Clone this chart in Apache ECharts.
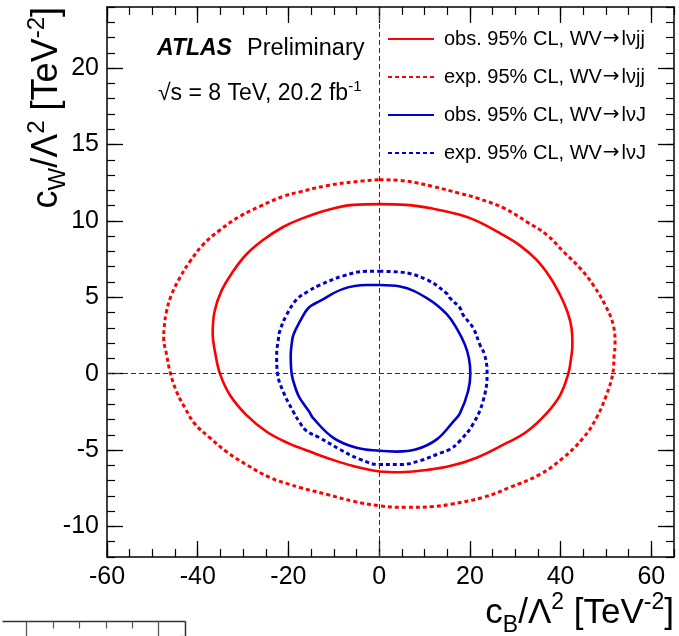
<!DOCTYPE html>
<html>
<head>
<meta charset="utf-8">
<script src="https://cdn.jsdelivr.net/npm/echarts@6/dist/echarts.min.js"></script>
<style>html,body{margin:0;padding:0;background:#fff;}#c{width:679px;height:636px;}</style>
</head>
<body>
<div id="c"></div>
<script>
// ---- data (c_B/Λ², c_W/Λ²) contours ----
const obsLvjj = [[0.1,11.1],[6.0,11.05],[11.9,10.8],[17.8,10.4],[21.5,10.0],[26.6,9.2],[31.0,8.4],[34.7,7.45],[37.6,6.35],[39.9,5.15],[41.5,4.05],[42.4,3.0],[42.6,1.9],[42.3,1.0],[41.7,0],[39.9,-1.4],[36.9,-2.6],[32.5,-3.8],[27.4,-4.65],[21.5,-5.5],[15.6,-6.05],[10.5,-6.3],[4.6,-6.45],[0.1,-6.4],[-5.7,-6.05],[-11.6,-5.5],[-15.3,-5.1],[-17.5,-4.85],[-19.7,-4.6],[-24.8,-3.8],[-29.3,-2.7],[-32.9,-1.4],[-35.1,0],[-36.2,1.45],[-36.7,2.6],[-36.3,4.05],[-34.8,5.4],[-32.2,6.7],[-29.3,7.8],[-25.6,8.75],[-21.2,9.6],[-17.5,10.1],[-11.6,10.7],[-5.7,11.05],[0.1,11.1]];
const expLvjj = [[0.1,12.7],[6.0,12.6],[11.9,12.25],[17.8,11.8],[21.5,11.5],[27.4,10.85],[32.5,9.95],[36.9,9.1],[40.6,8.0],[44.3,6.9],[47.2,5.8],[49.8,4.5],[51.6,3.2],[52.0,1.9],[51.8,1.2],[51.5,0],[50.1,-1.4],[47.9,-2.9],[45.0,-4.2],[40.6,-5.5],[35.4,-6.6],[28.8,-7.45],[22.9,-8.1],[15.6,-8.55],[11.9,-8.7],[6.0,-8.75],[0.1,-8.65],[-5.7,-8.35],[-11.6,-7.9],[-17.5,-7.45],[-19.7,-7.25],[-24.1,-6.8],[-29.3,-5.95],[-33.7,-5.1],[-37.3,-4.2],[-40.6,-3.3],[-42.8,-2.25],[-44.7,-1.15],[-46.0,0],[-46.9,1.3],[-47.5,2.3],[-47.4,3.0],[-46.9,4.05],[-45.8,5.15],[-44.0,6.25],[-41.7,7.35],[-38.8,8.45],[-35.1,9.4],[-30.7,10.3],[-26.3,10.95],[-21.2,11.6],[-17.5,11.9],[-11.6,12.3],[-5.7,12.55],[0.1,12.7]];
const obsLvJ = [[0.1,5.8],[4.6,5.7],[10.5,4.95],[14.9,3.9],[17.4,2.8],[18.9,1.9],[19.8,1.0],[20.1,0],[19.6,-1.15],[17.8,-2.6],[16.3,-3.15],[12.7,-4.3],[8.2,-4.95],[3.8,-5.1],[0.1,-5.05],[-5.0,-4.85],[-10.1,-4.2],[-14.6,-2.9],[-15.3,-2.55],[-16.0,-2.25],[-17.5,-1.6],[-18.2,-1.15],[-19.3,0],[-19.5,1.2],[-19.3,1.9],[-18.9,2.55],[-17.5,3.4],[-15.6,4.3],[-13.1,4.75],[-7.9,5.55],[-2.8,5.8],[0.1,5.8]];
const expLvJ = [[0.1,6.7],[4.6,6.65],[10.5,6.15],[14.9,5.25],[15.6,4.95],[17.8,4.3],[18.5,3.85],[20.7,3.0],[22.2,1.9],[23.3,1.2],[23.8,0],[22.9,-1.8],[20.7,-3.3],[17.8,-4.4],[15.6,-4.95],[13.4,-5.2],[9.0,-5.7],[4.6,-5.95],[0.1,-5.95],[-4.3,-5.6],[-8.7,-4.95],[-13.1,-4.2],[-16.0,-3.75],[-17.5,-3.2],[-19.0,-2.45],[-21.2,-1.15],[-22.4,0],[-22.6,1.2],[-22.2,2.3],[-21.9,2.8],[-20.4,3.85],[-18.2,4.85],[-15.6,5.4],[-13.1,5.8],[-7.9,6.4],[-2.8,6.7],[0.1,6.7]];

const seriesNames = ['obs. 95% CL, WV\u2192l\u03bdjj','exp. 95% CL, WV\u2192l\u03bdjj','obs. 95% CL, WV\u2192l\u03bdJ','exp. 95% CL, WV\u2192l\u03bdJ'];
const xTicks = [-60,-40,-20,0,20,40,60];
const yTicks = [-10,-5,0,5,10,15,20];
const xRange = [-60, 65];
const yRange = [-12, 24];

const F = '"Liberation Sans", Arial, Helvetica, sans-serif';
const RED = '#ff0000', BLUE = '#0000cc';

function makeRich(size) {
  const s = size / 32;
  const base = {fontFamily: F, color: '#000', fontWeight: 'normal'};
  return {
    m: Object.assign({fontSize: size, lineHeight: Math.round(50 * s)}, base),
    sup: Object.assign({fontSize: Math.round(21 * s), lineHeight: Math.round(22 * s), verticalAlign: 'top', padding: [Math.round(5 * s), 0, 0, 0]}, base),
    sub: Object.assign({fontSize: Math.round(21 * s), lineHeight: Math.round(22 * s), verticalAlign: 'bottom', padding: [0, 0, Math.round(4 * s), 0]}, base)
  };
}

function majorAxis(pos, range, ticks, showLabel, extra) {
  return Object.assign({
    type: 'value', position: pos, min: range[0], max: range[1], gridIndex: 0,
    axisLine: {show: true, onZero: false, lineStyle: {color: '#000', width: 1.5}},
    axisTick: {show: true, inside: true, length: 16, customValues: ticks, lineStyle: {color: '#000', width: 1.3}},
    axisLabel: {show: showLabel, customValues: ticks, fontSize: 25, fontFamily: F, color: '#000',
      formatter: v => (ticks.indexOf(v) >= 0 ? String(v) : '')},
    splitLine: {show: false}
  }, extra || {});
}
function minorAxis(pos, range, step) {
  return {
    type: 'value', position: pos, min: range[0], max: range[1], interval: step, gridIndex: 0,
    axisLine: {show: false, onZero: false},
    axisTick: {show: true, inside: true, length: 8, lineStyle: {color: '#000', width: 1.2}},
    axisLabel: {show: false}, splitLine: {show: false}
  };
}

const chart = echarts.init(document.getElementById('c'), null, {renderer: 'canvas'});
const lineSeries = (name, data, color, dotted) => ({
  name, type: 'line', data, xAxisIndex: 0, yAxisIndex: 0,
  symbol: 'none', showSymbol: false, smooth: 0.4, animation: false, silent: true,
  lineStyle: {color, width: dotted ? 3 : 2.6, type: dotted ? [4, 3] : 'solid', cap: 'butt'},
  itemStyle: {color}
});

const series = [
  lineSeries(seriesNames[0], obsLvjj, RED, false),
  lineSeries(seriesNames[1], expLvjj, RED, true),
  lineSeries(seriesNames[2], obsLvJ, BLUE, false),
  lineSeries(seriesNames[3], expLvJ, BLUE, true)
];
series[0].markLine = {
  silent: true, symbol: ['none', 'none'], label: {show: false}, animation: false,
  lineStyle: {color: '#333', width: 1, type: [5, 3]},
  data: [{xAxis: 0}, {yAxis: 0}]
};

chart.setOption({
  animation: false,
  backgroundColor: '#fff',
  grid: {left: 107, right: 5, top: 7, bottom: 79, containLabel: false, outerBoundsMode: 'none'},
  title: [
    {text: '{a|ATLAS}  {b|Preliminary}', left: 152, top: 32,
     textStyle: {fontWeight: 'normal', rich: {a: {fontSize: 23, fontWeight: 'bold', fontStyle: 'italic', fontFamily: F, color: '#000'},
                        b: {fontSize: 23.5, fontWeight: 'normal', fontFamily: F, color: '#000', padding: [0, 0, 0, 5]}}}},
    {text: '{b|\u221As = 8 TeV, 20.2 fb}{s|-1}', left: 153, top: 74,
     textStyle: {fontWeight: 'normal', rich: {b: {fontSize: 23, fontWeight: 'normal', fontFamily: F, color: '#000', lineHeight: 30},
                        s: {fontSize: 15, fontWeight: 'normal', fontFamily: F, color: '#000', lineHeight: 22, verticalAlign: 'top'}}}},
    {text: '{m|c}{sub|B}{m|/\u039b}{sup|2}{m| [TeV}{sup|-2}{m|]}', right: 5, top: 586, padding: 0,
     textStyle: {fontWeight: 'normal', rich: makeRich(35)}}
  ],
  legend: {
    orient: 'vertical', left: 387, top: 29, padding: 0, itemGap: 18,
    itemWidth: 46, itemHeight: 14, data: seriesNames, selectedMode: false,
    itemStyle: {opacity: 0},
    formatter: n => n.replace('\u2192', '{a|\u2192}'),
    textStyle: {fontSize: 20, fontFamily: F, color: '#000', padding: [0, 0, 0, 5],
      rich: {a: {fontSize: 20, fontFamily: '"DejaVu Sans", sans-serif', color: '#000', padding: [0, 2, 0, 1]}}}
  },
  xAxis: [
    majorAxis('bottom', xRange, xTicks, true),
    minorAxis('bottom', xRange, 5),
    majorAxis('top', xRange, xTicks, false),
    minorAxis('top', xRange, 5)
  ],
  yAxis: [
    majorAxis('left', yRange, yTicks, true, {
      name: '{m|c}{sub|W}{m|/\u039b}{sup|2}{m| [TeV}{sup|-2}{m|]}',
      nameLocation: 'end', nameGap: 0, nameRotate: 90, nameMoveOverlap: false,
      nameTextStyle: {align: 'right', verticalAlign: 'bottom', padding: [0, 0, 32, 0], rich: makeRich(36)}
    }),
    minorAxis('left', yRange, 1),
    majorAxis('right', yRange, yTicks, false),
    minorAxis('right', yRange, 1)
  ],
  graphic: [
    {type: 'group', left: 0, top: 619, silent: true, children: [
      {type: 'line', shape: {x1: 0, y1: 1, x2: 183, y2: 1}, style: {stroke: '#333', lineWidth: 1.5}},
      {type: 'line', shape: {x1: 183, y1: 1, x2: 183, y2: 17}, style: {stroke: '#333', lineWidth: 1.5}},
      {type: 'line', shape: {x1: 24, y1: 1, x2: 24, y2: 17}, style: {stroke: '#555', lineWidth: 1.3}},
      {type: 'line', shape: {x1: 156, y1: 1, x2: 156, y2: 17}, style: {stroke: '#555', lineWidth: 1.3}},
      {type: 'line', shape: {x1: 51, y1: 1, x2: 51, y2: 8}, style: {stroke: '#555', lineWidth: 1.2}},
      {type: 'line', shape: {x1: 77, y1: 1, x2: 77, y2: 8}, style: {stroke: '#555', lineWidth: 1.2}},
      {type: 'line', shape: {x1: 104, y1: 1, x2: 104, y2: 8}, style: {stroke: '#555', lineWidth: 1.2}},
      {type: 'line', shape: {x1: 130, y1: 1, x2: 130, y2: 8}, style: {stroke: '#555', lineWidth: 1.2}},
      {type: 'line', shape: {x1: 177, y1: 16, x2: 183, y2: 16}, style: {stroke: '#555', lineWidth: 1.2}}
    ]}
  ],
  series
});
</script>
</body>
</html>
